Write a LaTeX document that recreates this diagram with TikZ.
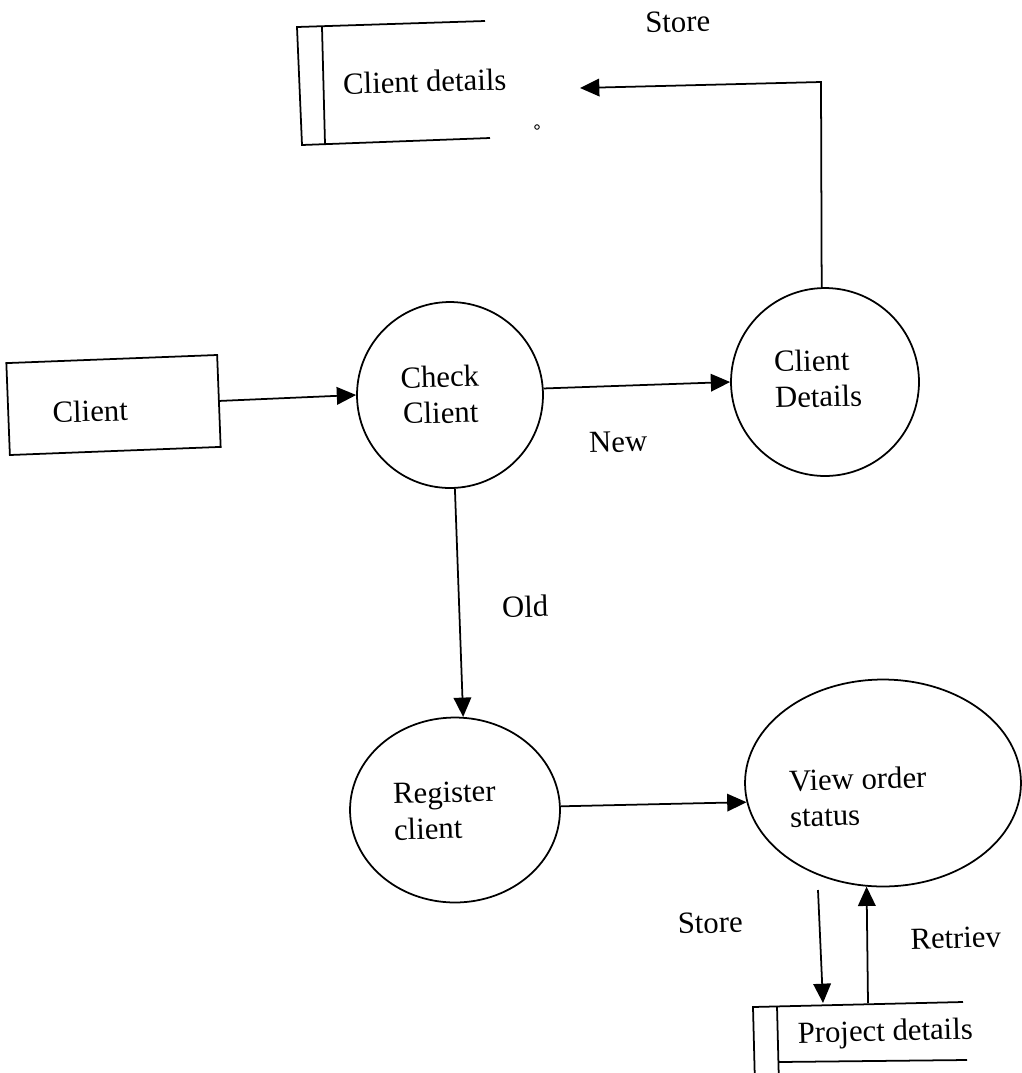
\documentclass[tikz,border=0pt]{standalone}
\usepackage{fontspec}
\setmainfont{Liberation Serif}
\usetikzlibrary{arrows.meta,shapes.geometric}
\begin{document}
\begin{tikzpicture}[x=0.02cm,y=-0.02cm,
  ln/.style={line width=1pt,line join=miter},
  arr/.style={ln,-{Triangle[length=11pt,width=10pt]}},
  proc/.style={draw,ln,ellipse,inner sep=0pt},
  entity/.style={draw,ln,rectangle,inner sep=0pt},
  lbl/.style={font=\fontsize{17.5}{20.5}\selectfont,inner sep=0pt,rotate=1.5},
]
\useasboundingbox (0,0) rectangle (1022,1073);

% external entity
\node[entity,minimum width=4.22cm,minimum height=1.84cm,rotate=2.2] (client) at (113.5,405) {};
\node[lbl,anchor=base] (clientlbl) at (90.5,421.7) {Client};

% processes (base anchor of a two-line label = baseline of its last line)
\node[proc,minimum width=3.72cm,minimum height=3.72cm] (check) at (450,395) {};
\node[lbl,align=center,anchor=base] (checklbl) at (441,423) {Check\\Client};

\node[proc,minimum width=3.76cm,minimum height=3.76cm] (cdet) at (825,382) {};
\node[lbl,align=left,anchor=base west] (cdetlbl) at (775,408) {Client\\Details};

\node[proc,minimum width=4.2cm,minimum height=3.7cm] (reg) at (455,810) {};
\node[lbl,align=left,anchor=base west] (reglbl) at (394,840) {Register\\client};

\node[proc,minimum width=5.52cm,minimum height=4.14cm] (view) at (883,783) {};
\node[lbl,align=left,anchor=base west] (viewlbl) at (790,827) {View order\\status};

% data store: Client details
\draw[ln] (485,21) -- (297,27) -- (302,145) -- (490,138);
\draw[ln] (322,27) -- (325,144);
\node[lbl,anchor=base] (cdstore) at (425,92) {Client details};

% data store: Project details
\draw[ln] (963,1002) -- (753,1007) -- (755,1085);
\draw[ln] (777,1006) -- (779,1085);
\draw[ln] (779,1062) -- (967,1060);
\node[lbl,anchor=base] (pdstore) at (885.5,1041) {Project details};

% stray speck
\draw[line width=0.5pt] (537,127) circle[radius=1.3pt];

% flow labels
\node[lbl,anchor=base] (storetop) at (678,32) {Store};
\node[lbl,anchor=base] (newlbl) at (618.5,452) {New};
\node[lbl,anchor=base] (oldlbl) at (525.5,617) {Old};
\node[lbl,anchor=base] (storebot) at (710.5,933) {Store};
\node[lbl,anchor=base] (retlbl) at (956,948) {Retriev};

% connector ends
\coordinate (cdcorner) at (821,82);
\coordinate (cdin) at (580,88);
\coordinate (vsout) at (818,890);
\coordinate (pdin) at (823,1003);
\coordinate (pdout) at (868,1003);

% flows
\draw[arr] (client.east) -- (check.west);
\draw[arr] (check.4) -- (cdet.west);
\draw[arr] (cdet.92) -- (cdcorner) -- (cdin);
\draw[arr] (check.273) -- (reg.85);
\draw[arr] (reg.2) -- (view.188);
\draw[arr] (vsout) -- (pdin);
\draw[arr] (pdout) -- (view.261);
\end{tikzpicture}
\end{document}
